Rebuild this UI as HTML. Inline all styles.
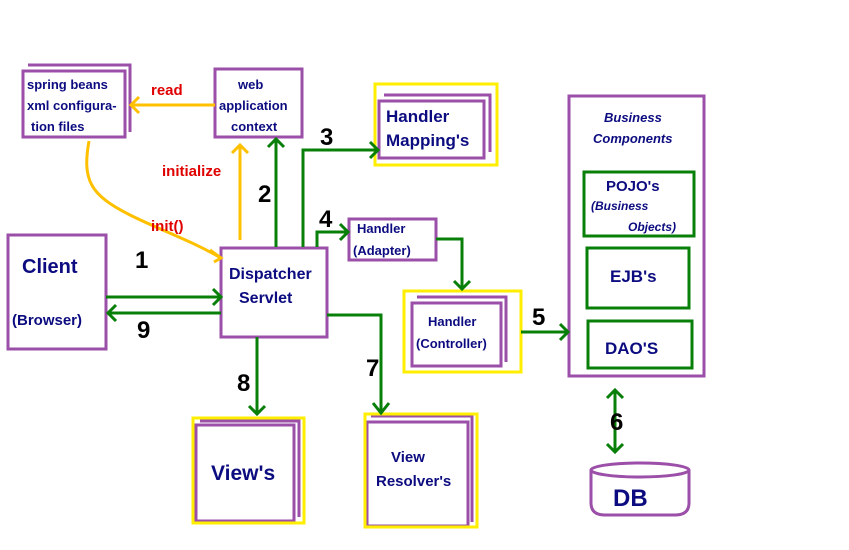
<!DOCTYPE html>
<html><head><meta charset="utf-8"><style>
html,body{margin:0;padding:0;background:#fff;width:849px;height:550px;overflow:hidden}
svg text{font-family:"Liberation Sans",sans-serif;font-weight:bold}
.n{fill:#0c0c80}
.r{fill:#e00000}
.k{fill:#000}
</style></head><body>
<svg width="849" height="550" viewBox="0 0 849 550" xmlns="http://www.w3.org/2000/svg">
<g fill="none" stroke="#9b4fa8" stroke-width="3">
<polyline points="28,65 130,65 130,132"/>
<rect x="23" y="71" width="102" height="66"/>
<rect x="215" y="69" width="87" height="68"/>
<polyline points="384,95 490,95 490,152"/>
<rect x="379" y="101" width="105" height="57"/>
<rect x="8" y="235" width="98" height="114"/>
<rect x="221" y="248" width="106" height="89"/>
<rect x="349" y="219" width="87" height="41"/>
<polyline points="417,297 506,297 506,362"/>
<rect x="412" y="303" width="89" height="63"/>
<rect x="569" y="96" width="135" height="280"/>
<polyline points="200,421 299,421 299,517"/>
<rect x="196" y="425" width="98" height="96"/>
<polyline points="371,416 472,416 472,522"/>
<rect x="367" y="422" width="101" height="104"/>
<path d="M591,470 L591,503 Q591,515 605,515 L675,515 Q689,515 689,503 L689,470"/>
<ellipse cx="640" cy="470" rx="49" ry="7"/>
</g>
<g fill="none" stroke="#ffee00" stroke-width="3">
<rect x="375" y="84" width="122" height="81"/>
<rect x="404" y="291" width="117" height="81"/>
<rect x="193" y="418" width="111" height="105"/>
<rect x="365" y="414" width="112" height="113"/>
</g>
<g fill="none" stroke="#087f08" stroke-width="3">
<rect x="584" y="172" width="110" height="64"/>
<rect x="587" y="248" width="102" height="60"/>
<rect x="588" y="321" width="104" height="47"/>
<line x1="106" y1="297" x2="221" y2="297"/><polyline points="213,289 221,297 213,305"/>
<line x1="221" y1="313" x2="108" y2="313"/><polyline points="116,305 108,313 116,321"/>
<line x1="276" y1="247" x2="276" y2="139"/><polyline points="268,147 276,139 284,147"/>
<polyline points="303,247 303,150 378,150"/><polyline points="370,142 378,150 370,158"/>
<polyline points="317,247 317,232 348,232"/><polyline points="340,224 348,232 340,240"/>
<polyline points="436,239 462,239 462,289"/><polyline points="454,281 462,289 470,281"/>
<line x1="521" y1="332" x2="568" y2="332"/><polyline points="560,324 568,332 560,340"/>
<polyline points="327,315 381,315 381,413"/><polyline points="373,403 381,413 389,403"/>
<line x1="257" y1="337" x2="257" y2="414"/><polyline points="249,406 257,414 265,406"/>
<line x1="615" y1="390" x2="615" y2="452"/><polyline points="607,398 615,390 623,398"/><polyline points="607,444 615,452 623,444"/>
</g>
<g fill="none" stroke="#ffc000" stroke-width="3">
<line x1="215" y1="105" x2="131" y2="105"/><polyline points="139,97 131,105 139,113"/>
<line x1="240" y1="240" x2="240" y2="145"/><polyline points="232,153 240,145 248,153"/>
<path d="M89,141 C82,180 90,195 130,215 C160,230 190,240 221,258"/><polyline points="210,250 221,258 214,262"/>
</g>
<text class="n" font-size="13" x="27" y="89">spring beans</text>
<text class="n" font-size="13" x="27" y="110">xml configura-</text>
<text class="n" font-size="13" x="31" y="131">tion  files</text>
<text class="n" font-size="13" x="238" y="89">web</text>
<text class="n" font-size="13" x="219" y="110">application</text>
<text class="n" font-size="13" x="231" y="131">context</text>
<text class="r" font-size="15" x="151" y="95">read</text>
<text class="r" font-size="15" x="162" y="176">initialize</text>
<text class="r" font-size="15" x="151" y="231">init()</text>
<text class="n" font-size="17" x="386" y="122">Handler</text>
<text class="n" font-size="17" x="386" y="146">Mapping's</text>
<text class="n" font-size="20" x="22" y="273">Client</text>
<text class="n" font-size="15" x="12" y="325">(Browser)</text>
<text class="n" font-size="16" x="229" y="279">Dispatcher</text>
<text class="n" font-size="16" x="239" y="303">Servlet</text>
<text class="n" font-size="13" x="357" y="233">Handler</text>
<text class="n" font-size="13" x="353" y="255">(Adapter)</text>
<text class="n" font-size="13" x="428" y="326">Handler</text>
<text class="n" font-size="13" x="416" y="348">(Controller)</text>
<text class="n" font-size="13" x="604" y="122" font-style="italic">Business</text>
<text class="n" font-size="13" x="593" y="143" font-style="italic">Components</text>
<text class="n" font-size="15" x="606" y="191">POJO's</text>
<text class="n" font-size="12" x="591" y="210" font-style="italic">(Business</text>
<text class="n" font-size="12" x="628" y="231" font-style="italic">Objects)</text>
<text class="n" font-size="17" x="610" y="282">EJB's</text>
<text class="n" font-size="17" x="605" y="354">DAO'S</text>
<text class="n" font-size="21" x="211" y="480">View's</text>
<text class="n" font-size="15" x="391" y="462">View</text>
<text class="n" font-size="15" x="376" y="486">Resolver's</text>
<text class="n" font-size="24" x="613" y="506">DB</text>
<g class="k" font-size="24">
<text x="135" y="268">1</text>
<text x="258" y="202">2</text>
<text x="320" y="145">3</text>
<text x="319" y="227">4</text>
<text x="532" y="325">5</text>
<text x="610" y="430">6</text>
<text x="366" y="376">7</text>
<text x="237" y="391">8</text>
<text x="137" y="338">9</text>
</g>
</svg>
</body></html>
